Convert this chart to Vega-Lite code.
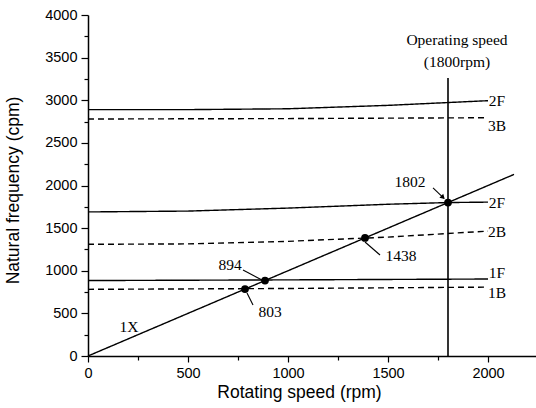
{
  "$schema": "https://vega.github.io/schema/vega-lite/v6.json",
  "autosize": {"type": "none"},
  "padding": {"left": 88, "top": 15, "right": 0, "bottom": 52},
  "width": 448,
  "height": 341,
  "background": "white",
  "config": {
    "view": {"stroke": null},
    "axis": {
      "domainColor": "black", "domainWidth": 1.5, "tickColor": "black", "tickWidth": 1.2,
      "labelColor": "black", "labelFont": "Liberation Sans", "labelFontSize": 14.5,
      "titleFont": "Liberation Sans", "titleFontSize": 17.5, "titleFontWeight": "normal", "titleColor": "black",
      "grid": false
    }
  },
  "datasets": {
    "curves": [
      {"mode": "2F_upper", "kind": "solid", "rpm": 0, "cpm": 2890},
      {"mode": "2F_upper", "kind": "solid", "rpm": 500, "cpm": 2890},
      {"mode": "2F_upper", "kind": "solid", "rpm": 1000, "cpm": 2900},
      {"mode": "2F_upper", "kind": "solid", "rpm": 1500, "cpm": 2940},
      {"mode": "2F_upper", "kind": "solid", "rpm": 2000, "cpm": 2995},
      {"mode": "3B", "kind": "dashed", "rpm": 0, "cpm": 2780},
      {"mode": "3B", "kind": "dashed", "rpm": 1000, "cpm": 2785},
      {"mode": "3B", "kind": "dashed", "rpm": 2000, "cpm": 2795},
      {"mode": "2F_lower", "kind": "solid", "rpm": 0, "cpm": 1690},
      {"mode": "2F_lower", "kind": "solid", "rpm": 500, "cpm": 1700},
      {"mode": "2F_lower", "kind": "solid", "rpm": 1000, "cpm": 1735},
      {"mode": "2F_lower", "kind": "solid", "rpm": 1500, "cpm": 1780},
      {"mode": "2F_lower", "kind": "solid", "rpm": 1800, "cpm": 1800},
      {"mode": "2F_lower", "kind": "solid", "rpm": 2000, "cpm": 1805},
      {"mode": "2B", "kind": "dashed", "rpm": 0, "cpm": 1310},
      {"mode": "2B", "kind": "dashed", "rpm": 500, "cpm": 1315},
      {"mode": "2B", "kind": "dashed", "rpm": 1000, "cpm": 1345},
      {"mode": "2B", "kind": "dashed", "rpm": 1500, "cpm": 1395},
      {"mode": "2B", "kind": "dashed", "rpm": 2000, "cpm": 1465},
      {"mode": "1F", "kind": "solid", "rpm": 0, "cpm": 885},
      {"mode": "1F", "kind": "solid", "rpm": 1000, "cpm": 893},
      {"mode": "1F", "kind": "solid", "rpm": 2000, "cpm": 903},
      {"mode": "1B", "kind": "dashed", "rpm": 0, "cpm": 782},
      {"mode": "1B", "kind": "dashed", "rpm": 1000, "cpm": 792},
      {"mode": "1B", "kind": "dashed", "rpm": 2000, "cpm": 808},
      {"mode": "1X", "kind": "solid", "rpm": 0, "cpm": 0},
      {"mode": "1X", "kind": "solid", "rpm": 2130, "cpm": 2130}
    ],
    "points": [
      {"rpm": 785, "cpm": 785},
      {"rpm": 885, "cpm": 885},
      {"rpm": 1385, "cpm": 1385},
      {"rpm": 1800, "cpm": 1800}
    ],
    "labels": [
      {"text": "2F", "rpm": 2045, "cpm": 2995, "align": "left"},
      {"text": "3B", "rpm": 2045, "cpm": 2700, "align": "left"},
      {"text": "2F", "rpm": 2045, "cpm": 1795, "align": "left"},
      {"text": "2B", "rpm": 2045, "cpm": 1460, "align": "left"},
      {"text": "1F", "rpm": 2045, "cpm": 970, "align": "left"},
      {"text": "1B", "rpm": 2045, "cpm": 740, "align": "left"},
      {"text": "1X", "rpm": 205, "cpm": 340, "align": "center"},
      {"text": "894", "rpm": 710, "cpm": 1069, "align": "center"},
      {"text": "803", "rpm": 910, "cpm": 516, "align": "center"},
      {"text": "1438", "rpm": 1565, "cpm": 1173, "align": "center"},
      {"text": "1802", "rpm": 1610, "cpm": 2041, "align": "center"},
      {"text": "Operating speed", "rpm": 1845, "cpm": 3707, "align": "center"},
      {"text": "(1800rpm)", "rpm": 1845, "cpm": 3449, "align": "center"}
    ],
    "leaders": [
      {"rpm": 775, "cpm": 1009, "rpm2": 870, "cpm2": 891},
      {"rpm": 795, "cpm": 739, "rpm2": 825, "cpm2": 598},
      {"rpm": 1385, "cpm": 1337, "rpm2": 1460, "cpm2": 1185},
      {"rpm": 1725, "cpm": 1971, "rpm2": 1780, "cpm2": 1850}
    ],
    "arrows": [
      {"rpm": 1775, "cpm": 1860}
    ],
    "speed": [
      {"rpm": 1800, "cpm": 0, "cpm2": 3260}
    ]
  },
  "encoding": {
    "x": {
      "field": "rpm", "type": "quantitative",
      "scale": {"domain": [0, 2240], "nice": false, "zero": false},
      "axis": {
        "title": "Rotating speed (rpm)",
        "values": [0, 250, 500, 750, 1000, 1250, 1500, 1750, 2000],
        "labelExpr": "datum.value % 500 === 0 ? datum.label : ''",
        "format": "d",
        "tickSize": {"condition": {"test": "datum.value % 500 === 0", "value": 6}, "value": 4},
        "labelPadding": 4, "titlePadding": 4, "labelFlush": false,
        "titleX": 211
      }
    },
    "y": {
      "field": "cpm", "type": "quantitative",
      "scale": {"domain": [0, 4000], "nice": false},
      "axis": {
        "title": "Natural frequency (cpm)",
        "values": [0, 250, 500, 750, 1000, 1250, 1500, 1750, 2000, 2250, 2500, 2750, 3000, 3250, 3500, 3750, 4000],
        "labelExpr": "datum.value % 500 === 0 ? datum.label : ''",
        "format": "d",
        "tickSize": {"condition": {"test": "datum.value % 500 === 0", "value": 7}, "value": 4},
        "labelPadding": 4, "titlePadding": 22, "labelFlush": false,
        "titleY": 175
      }
    }
  },
  "layer": [
    {
      "mark": {"type": "rule", "color": "black", "strokeWidth": 1.5},
      "encoding": {"y": {"datum": 4000}, "x": null}
    },
    {
      "data": {"name": "curves"},
      "mark": {"type": "line", "color": "black", "strokeWidth": 1.4},
      "encoding": {
        "detail": {"field": "mode"},
        "strokeDash": {"field": "kind", "type": "nominal", "scale": {"domain": ["solid", "dashed"], "range": [[1, 0], [6, 4]]}, "legend": null}
      }
    },
    {
      "data": {"name": "speed"},
      "mark": {"type": "rule", "color": "black", "strokeWidth": 1.6},
      "encoding": {"y2": {"field": "cpm2"}}
    },
    {
      "data": {"name": "leaders"},
      "mark": {"type": "rule", "color": "black", "strokeWidth": 1.1},
      "encoding": {"x2": {"field": "rpm2"}, "y2": {"field": "cpm2"}}
    },
    {
      "data": {"name": "arrows"},
      "mark": {"type": "point", "shape": "triangle-right", "filled": true, "color": "black", "opacity": 1, "size": 30, "angle": 45}
    },
    {
      "data": {"name": "points"},
      "mark": {"type": "circle", "color": "black", "opacity": 1, "size": 60}
    },
    {
      "data": {"name": "labels"},
      "mark": {"type": "text", "font": "Liberation Serif", "fontSize": 15.5, "color": "black", "baseline": "middle"},
      "encoding": {"text": {"field": "text"}, "align": {"field": "align"}}
    }
  ]
}
